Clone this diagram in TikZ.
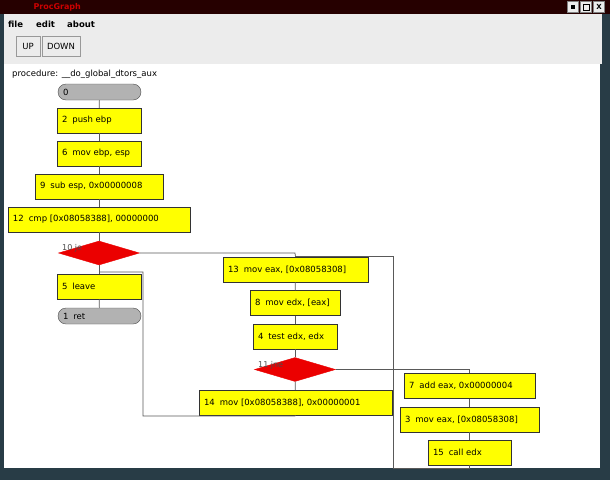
\documentclass[tikz,border=0pt]{standalone}
\usepackage{fontspec}
\setmainfont{DejaVu Sans}
\usetikzlibrary{shapes.geometric}
\definecolor{box}{RGB}{255,255,0}
\definecolor{dia}{RGB}{235,0,0}
\definecolor{frame}{RGB}{40,60,70}
\definecolor{chrome}{RGB}{236,236,236}
\tikzset{
 stm/.style={draw=black!80,fill=box,font=\fontsize{8.5}{10}\selectfont,inner sep=0pt,minimum height=25pt,align=left,anchor=center},
 term/.style={draw=black!70,fill=black!30,rounded corners=8pt,font=\fontsize{8.5}{10}\selectfont,minimum height=16pt,minimum width=83pt,inner sep=0pt},
 dec/.style={diamond,draw=dia,fill=dia,inner sep=0pt,aspect=3.4,minimum width=81pt,minimum height=24pt},
 lab/.style={font=\fontsize{8}{9}\selectfont,text=black!70,anchor=west,inner sep=0pt},
 edge/.style={draw=black!65,line width=0.7pt},
 menu/.style={font=\fontsize{8.5}{10}\selectfont\bfseries,inner sep=0pt},
 btn/.style={draw=black!40,fill=chrome,font=\fontsize{8.5}{10}\selectfont,inner sep=2pt,minimum height=20pt}
}
\newcommand{\stmbox}[5]{\node[stm,minimum width=#3pt] (#1) at (#2) {\makebox[#3pt][l]{\hspace{5pt}#4\hspace{5pt}#5}};}
\begin{document}
\begin{tikzpicture}[x=1pt,y=-1pt]
\useasboundingbox (0,0) rectangle (610,480);
\fill[frame] (0,0) rectangle (610,480);
\fill[black!85!red] (0,0) rectangle (610,14);
\fill[chrome] (4,14) rectangle (602,64);
\fill[white] (4,64) rectangle (600,468);
\node[font=\fontsize{8}{9}\selectfont\bfseries,text=red!80!black,anchor=west] (title) at (30,7) {ProcGraph};
\foreach \i/\x in {a/573,b/586,c/599}{\node[draw=black!50,fill=chrome,minimum size=11pt,inner sep=0pt] (w\i) at (\x,7) {};}
\node[fill=black,minimum size=4pt,inner sep=0pt] (wa2) at (573,7) {};
\node[draw=black,minimum size=6pt,inner sep=0pt,line width=1pt] (wb2) at (586,7) {};
\node[font=\scriptsize\bfseries] (wc2) at (599,7) {X};
\node[menu,anchor=west] (mf) at (8,24) {file};
\node[menu,anchor=west] (me) at (36,24) {edit};
\node[menu,anchor=west] (ma) at (67,24) {about};
\node[btn,minimum width=24pt] (up) at (28,46) {UP};
\node[btn,minimum width=38pt] (dn) at (61,46) {DOWN};
\node[font=\fontsize{8.5}{10}\selectfont,anchor=west,inner sep=0pt] (proc) at (12,74) {procedure: \_\_do\_global\_dtors\_aux};
% left column
\node[term] (n0) at (99.5,92) {\makebox[83pt][l]{\hspace{5pt}0}};
\stmbox{n2}{99,120.5}{84}{2}{push ebp}
\stmbox{n6}{99,153.5}{84}{6}{mov ebp, esp}
\stmbox{n9}{99,186.5}{128}{9}{sub esp, 0x00000008}
\stmbox{n12}{99,219.5}{182}{12}{cmp [0x08058388], 00000000}
\node[dec] (d10) at (99,253) {};
\node[lab] (l10) at (62,248) {10 je};
\stmbox{n5}{99,286.5}{84}{5}{leave}
\node[term] (n1) at (99.5,316) {\makebox[83pt][l]{\hspace{5pt}1\hspace{5pt}ret}};
% right column
\stmbox{n13}{295.5,269.5}{145}{13}{mov eax, [0x08058308]}
\stmbox{n8}{295,303}{90}{8}{mov edx, [eax]}
\stmbox{n4}{295,336.5}{84}{4}{test edx, edx}
\node[dec] (d11) at (295,369.5) {};
\node[lab] (l11) at (258,365) {11 jne};
\stmbox{n14}{295.5,402.5}{193}{14}{mov [0x08058388], 0x00000001}
\stmbox{n7}{469.5,386}{131}{7}{add eax, 0x00000004}
\stmbox{n3}{469.5,419.5}{139}{3}{mov eax, [0x08058308]}
\stmbox{n15}{469.5,452.5}{83}{15}{call edx}
% edges
\draw[edge] (n0) -- (n2);
\draw[edge] (n2) -- (n6);
\draw[edge] (n6) -- (n9);
\draw[edge] (n9) -- (n12);
\draw[edge] (n12) -- (d10);
\draw[edge] (d10) -- (n5);
\draw[edge] (n5) -- (n1);
\draw[edge] (d10.east) -- (295,253) -- (n13.north);
\draw[edge] (n13) -- (n8);
\draw[edge] (n8) -- (n4);
\draw[edge] (n4) -- (d11);
\draw[edge] (d11) -- (n14);
\draw[edge] (d11.east) -- (469.5,369.5) -- (n7.north);
\draw[edge] (n7) -- (n3);
\draw[edge] (n3) -- (n15);
\draw[edge] (n15.south) -- (469.5,468) -- (393,468) -- (393,256) -- (295,256);
\draw[edge] (n14.south) -- (295,416) -- (143,416) -- (143,272) -- (99,272);
\end{tikzpicture}
\end{document}
